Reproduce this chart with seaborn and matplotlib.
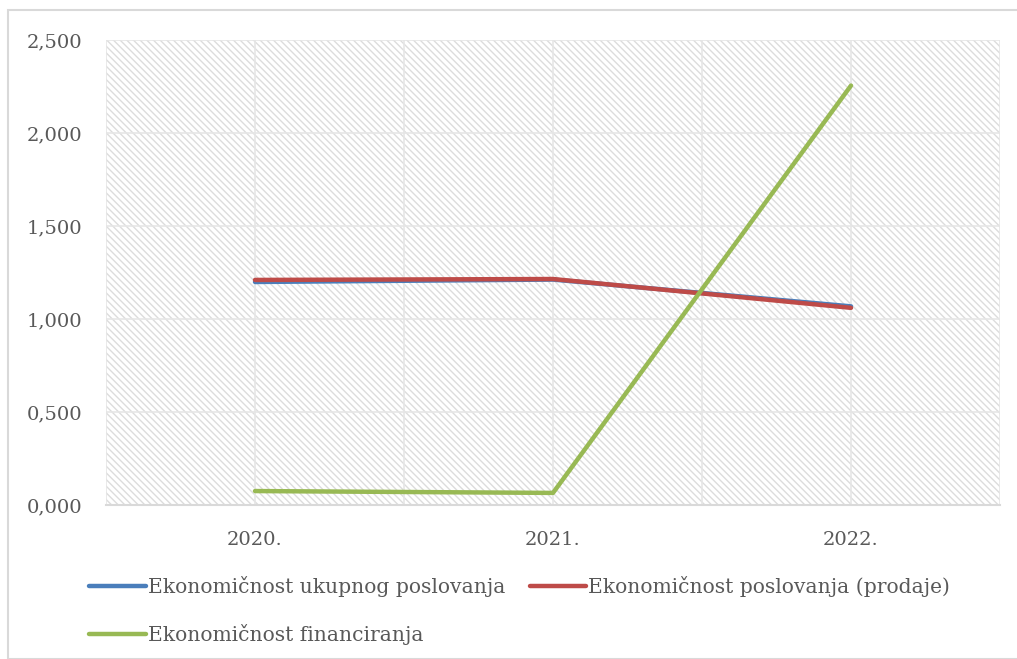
import matplotlib
matplotlib.use("Agg")
import matplotlib.pyplot as plt
import matplotlib.ticker as mticker
from matplotlib.patches import Rectangle
import seaborn as sns
import pandas as pd

years = ["2020.", "2021.", "2022."]
series_names = ["Ekonomičnost ukupnog poslovanja",
                "Ekonomičnost poslovanja (prodaje)",
                "Ekonomičnost financiranja"]
ukupno = [1.199, 1.212, 1.068]
prodaja = [1.210, 1.215, 1.060]
financiranje = [0.075, 0.065, 2.255]
colors = ["#4a7ebb", "#be4b48", "#98b954"]

rows = []
for name, vals in zip(series_names, [ukupno, prodaja, financiranje]):
    for i, (y, v) in enumerate(zip(years, vals)):
        rows.append({"x": i, "year": y, "serija": name, "vrijednost": v})
df = pd.DataFrame(rows)

sns.set_theme(style="white")
plt.rcParams["font.family"] = ["DejaVu Serif"]
plt.rcParams["hatch.linewidth"] = 1.0

fig = plt.figure(figsize=(10.17, 6.59), dpi=100)
ax = fig.add_axes([106/1017, 1-505/659, (1000-106)/1017, (505-40)/659])

# hatched background
bg = Rectangle((0, 0), 1, 1, transform=ax.transAxes, facecolor="white",
               edgecolor="#dcdcdc", hatch="\\\\\\\\\\", linewidth=0, zorder=0)
ax.add_patch(bg)

sns.lineplot(data=df, x="x", y="vrijednost", hue="serija", hue_order=series_names,
             palette=colors, linewidth=3.2, ax=ax, legend=True, zorder=3)

ax.set_xlim(-0.5, 2.5)
ax.set_ylim(0, 2.5)
ax.set_xticks([0, 1, 2])
ax.set_xticklabels(years)
ax.set_xticks([-0.5, 0.5, 1.5, 2.5], minor=True)
ax.set_yticks([0, 0.5, 1.0, 1.5, 2.0, 2.5])
ax.yaxis.set_major_formatter(mticker.FuncFormatter(lambda v, p: f"{v:.3f}".replace(".", ",")))
ax.grid(True, which="both", color="#e6e6e6", linewidth=1.2, zorder=1)
ax.set_axisbelow(True)
ax.set_xlabel("")
ax.set_ylabel("")
for s in ["top", "right", "left"]:
    ax.spines[s].set_visible(False)
ax.spines["bottom"].set_color("#d9d9d9")
ax.spines["bottom"].set_linewidth(1.5)
ax.tick_params(axis="both", which="both", length=0, labelsize=14, labelcolor="#595959")
ax.tick_params(axis="x", pad=19)
ax.tick_params(axis="y", pad=17)

handles, labels = ax.get_legend_handles_labels()
ax.get_legend().remove()
order = [0, 2, 1]
leg = fig.legend([handles[i] for i in order], [labels[i] for i in order],
                 ncol=2, loc="upper left",
                 bbox_to_anchor=(89/1017, 1-576/659), frameon=False,
                 fontsize=14.6, handlelength=2.8, handletextpad=0.1,
                 columnspacing=1.2, labelspacing=1.35, borderaxespad=0, borderpad=0)
for t in leg.get_texts():
    t.set_color("#595959")
for h in leg.get_lines():
    h.set_linewidth(3.2)

fig.patches.append(Rectangle((8/1017, 0), 1, 1-10/659, transform=fig.transFigure,
                             fill=False, edgecolor="#d9d9d9", linewidth=1.5))

fig.savefig("out.png", dpi=100)
